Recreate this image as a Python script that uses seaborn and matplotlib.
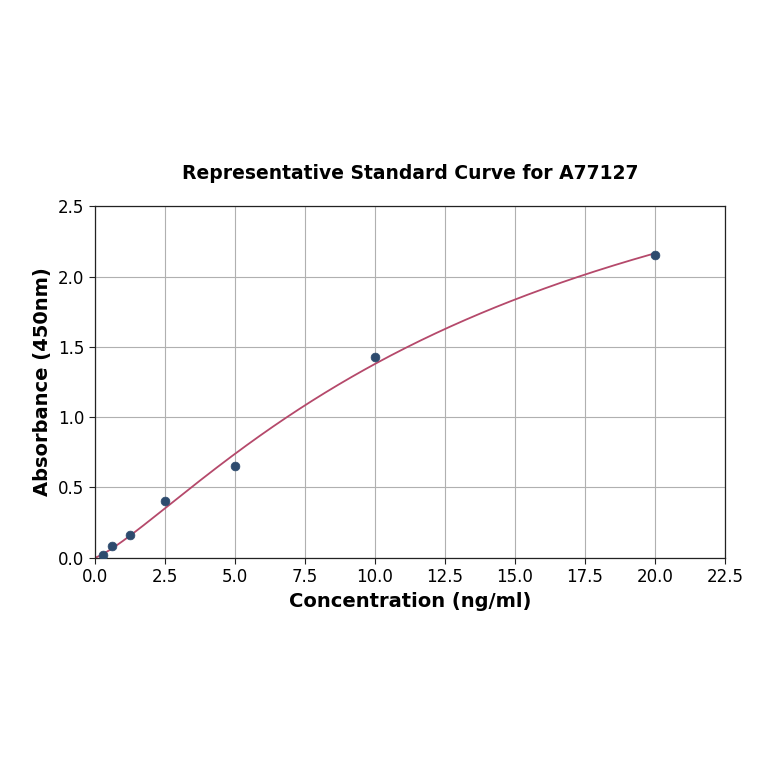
import numpy as np
import pandas as pd
import seaborn as sns
import matplotlib
matplotlib.use("Agg")
import matplotlib.pyplot as plt

# standard points
conc = [0.3125, 0.625, 1.25, 2.5, 5.0, 10.0, 20.0]
absorb = [0.02, 0.085, 0.165, 0.40, 0.655, 1.425, 2.155]

df = pd.DataFrame({"conc": conc, "abs": absorb})


# 4PL fit of the standards (bottom fixed at 0, simple Levenberg-Marquardt)
def four_pl(x, p):
    b, c, d = p
    return d - d / (1 + (np.abs(x) / c) ** b)


x = np.array(conc)
y = np.array(absorb)
p = np.array([1.3, 12.0, 3.5])
lam = 1e-2
for _ in range(500):
    r = y - four_pl(x, p)
    J = np.zeros((len(x), 3))
    for k in range(3):
        dp = np.zeros(3)
        dp[k] = 1e-6 * max(1.0, abs(p[k]))
        J[:, k] = (four_pl(x, p + dp) - four_pl(x, p)) / dp[k]
    A = J.T @ J
    step = np.linalg.solve(A + lam * np.diag(np.diag(A)), J.T @ r)
    p_new = p + step
    if p_new[1] > 0 and np.sum((y - four_pl(x, p_new)) ** 2) < np.sum(r ** 2):
        p = p_new
        lam *= 0.5
    else:
        lam *= 5

xs = np.linspace(0, 20, 300)
fit = pd.DataFrame({"conc": xs, "abs": four_pl(xs, p)})

sns.set_style("whitegrid")
plt.rcParams["text.color"] = "black"
plt.rcParams["axes.labelcolor"] = "black"
fig = plt.figure(figsize=(7.64, 7.64), dpi=100)
ax = fig.add_axes([0.124, 0.270, 0.825, 0.460])

sns.lineplot(data=fit, x="conc", y="abs", ax=ax, color="#b5496b", linewidth=1.3)
sns.scatterplot(data=df, x="conc", y="abs", ax=ax, color="#2d4b6e", s=40,
                edgecolor="#2d4b6e", zorder=3)

ax.set_xlim(0, 22.5)
ax.set_ylim(0, 2.5)
ax.set_xticks(np.arange(0, 22.6, 2.5))
ax.set_yticks(np.arange(0, 2.6, 0.5))
ax.grid(True, color="#b0b0b0", linewidth=0.8)
for s in ax.spines.values():
    s.set_color("#222222")
    s.set_linewidth(0.9)
ax.tick_params(axis="both", labelsize=12, length=4, color="#222222", labelcolor="black",
               left=True, bottom=True)
ax.set_xlabel("Concentration (ng/ml)", fontsize=14, fontweight="bold", color="black")
ax.set_ylabel("Absorbance (450nm)", fontsize=14, fontweight="bold", color="black")
ax.set_title("Representative Standard Curve for A77127", fontsize=13.5,
             fontweight="bold", pad=20, color="black")

fig.savefig("out.png", dpi=100)
